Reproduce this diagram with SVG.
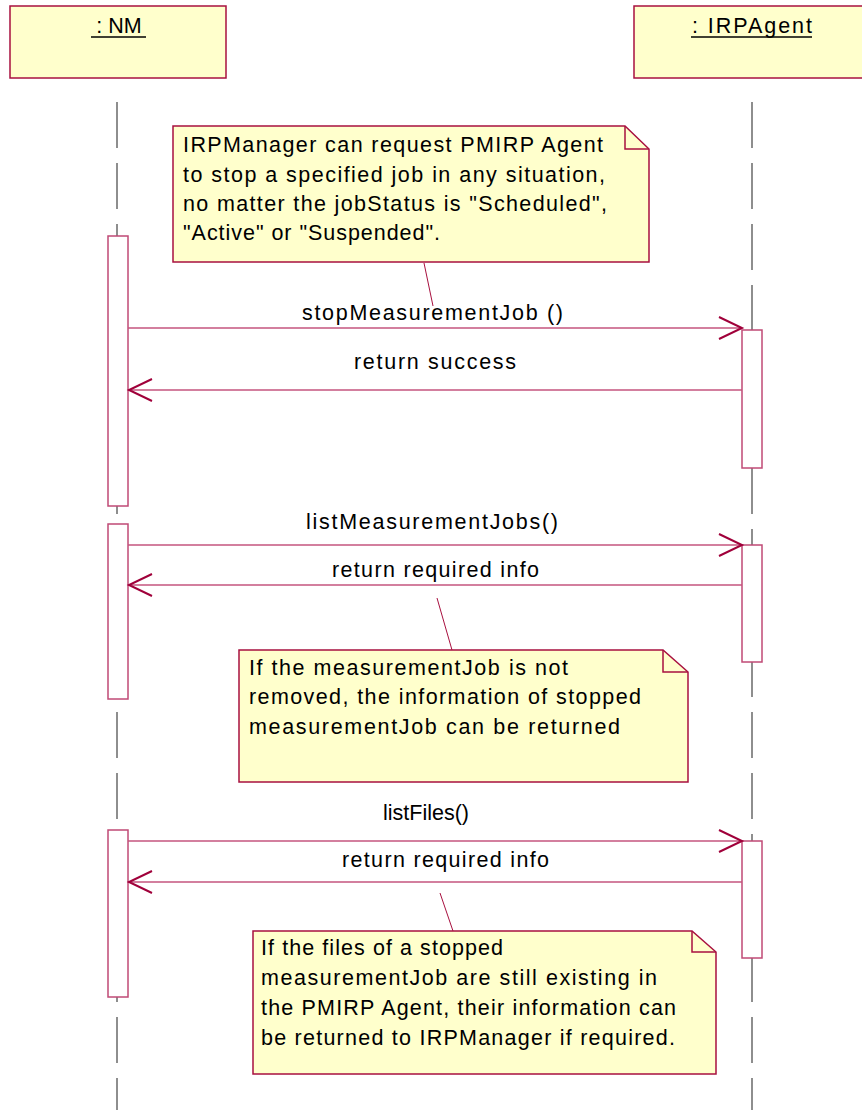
<svg xmlns="http://www.w3.org/2000/svg" width="862" height="1110" viewBox="0 0 862 1110">
<style>
.obj{fill:#FFFFCC;stroke:#A8103F;stroke-width:1.5}
.note{fill:#FFFFCC;stroke:#A8103F;stroke-width:1.5}
.fold{fill:none;stroke:#A8103F;stroke-width:1.5}
.act{fill:#FFFFFF;stroke:#C04A76;stroke-width:1.5}
.life{stroke:#444;stroke-width:1.2;stroke-dasharray:46 15;fill:none}
.msg{stroke:#C4557E;stroke-width:1.3;fill:none}
.head{stroke:#A0003A;stroke-width:2;fill:none}
.link{stroke:#A8103F;stroke-width:1;fill:none}
text{font-family:"Liberation Sans",Arial,sans-serif;font-size:21.5px;fill:#000}
.ul{stroke:#000;stroke-width:1.5}
</style>
<g id="lifelines">
<line class="life" x1="117" y1="102" x2="117" y2="1110"/>
<line class="life" x1="752" y1="102" x2="752" y2="1110"/>
</g>
<g id="nm">
<rect class="obj" x="10" y="6" width="216" height="72"/>
<text x="119" y="33" text-anchor="middle">: NM</text>
<line class="ul" x1="91" y1="37" x2="146" y2="37"/>
</g>
<g id="irpagent">
<rect class="obj" x="634" y="6" width="234" height="72"/>
<text x="692" y="33" textLength="120" lengthAdjust="spacing">: IRPAgent</text>
<line class="ul" x1="691" y1="37" x2="812" y2="37"/>
</g>
<g id="activations">
<rect class="act" x="108" y="236" width="20" height="270"/>
<rect class="act" x="742" y="330" width="20" height="138"/>
<rect class="act" x="108" y="524" width="20" height="175"/>
<rect class="act" x="742" y="545" width="20" height="117"/>
<rect class="act" x="108" y="830" width="20" height="167"/>
<rect class="act" x="742" y="841" width="20" height="117"/>
</g>
<g id="note1">
<path class="note" d="M173,126 H625 L649,149 V262 H173 Z"/>
<path class="fold" d="M625,126 V149 H649"/>
<text x="183" y="152" textLength="420" lengthAdjust="spacing">IRPManager can request PMIRP Agent</text>
<text x="183" y="182" textLength="422" lengthAdjust="spacing">to stop a specified job in any situation,</text>
<text x="183" y="211" textLength="424" lengthAdjust="spacing">no matter the jobStatus is "Scheduled",</text>
<text x="183" y="240" textLength="257" lengthAdjust="spacing">"Active" or "Suspended".</text>
</g>
<g id="note2">
<path class="note" d="M239,650 H663 L688,672 V782 H239 Z"/>
<path class="fold" d="M663,650 V672 H688"/>
<text x="249" y="675" textLength="319" lengthAdjust="spacing">If the measurementJob is not</text>
<text x="249" y="704" textLength="392" lengthAdjust="spacing">removed, the information of stopped</text>
<text x="249" y="734" textLength="371" lengthAdjust="spacing">measurementJob can be returned</text>
</g>
<g id="note3">
<path class="note" d="M253,931 H692 L716,952 V1074 H253 Z"/>
<path class="fold" d="M692,931 V952 H716"/>
<text x="261" y="955" textLength="242" lengthAdjust="spacing">If the files of a stopped</text>
<text x="261" y="985" textLength="396" lengthAdjust="spacing">measurementJob are still existing in</text>
<text x="261" y="1015" textLength="415" lengthAdjust="spacing">the PMIRP Agent, their information can</text>
<text x="261" y="1045" textLength="414" lengthAdjust="spacing">be returned to IRPManager if required.</text>
</g>
<g id="connectors">
<line class="link" x1="424" y1="263" x2="433" y2="306"/>
<line class="link" x1="452" y1="650" x2="437" y2="598"/>
<line class="link" x1="453" y1="931" x2="440" y2="893"/>
<line class="msg" x1="128" y1="328" x2="742" y2="328"/>
<path class="head" d="M719,317 L742,328 L719,339"/>
<line class="msg" x1="742" y1="390" x2="128" y2="390"/>
<path class="head" d="M152,379 L129,390 L152,401"/>
<line class="msg" x1="128" y1="545" x2="742" y2="545"/>
<path class="head" d="M719,534 L742,545 L719,556"/>
<line class="msg" x1="742" y1="585" x2="128" y2="585"/>
<path class="head" d="M152,574 L129,585 L152,596"/>
<line class="msg" x1="128" y1="841" x2="742" y2="841"/>
<path class="head" d="M719,830 L742,841 L719,852"/>
<line class="msg" x1="742" y1="882" x2="128" y2="882"/>
<path class="head" d="M152,871 L129,882 L152,893"/>
<text x="302" y="320" textLength="261" lengthAdjust="spacing">stopMeasurementJob ()</text>
<text x="354" y="369" textLength="162" lengthAdjust="spacing">return success</text>
<text x="306" y="529" textLength="252" lengthAdjust="spacing">listMeasurementJobs()</text>
<text x="332" y="577" textLength="207" lengthAdjust="spacing">return required info</text>
<text x="426" y="820" text-anchor="middle">listFiles()</text>
<text x="342" y="867" textLength="207" lengthAdjust="spacing">return required info</text>
</g>
</svg>
